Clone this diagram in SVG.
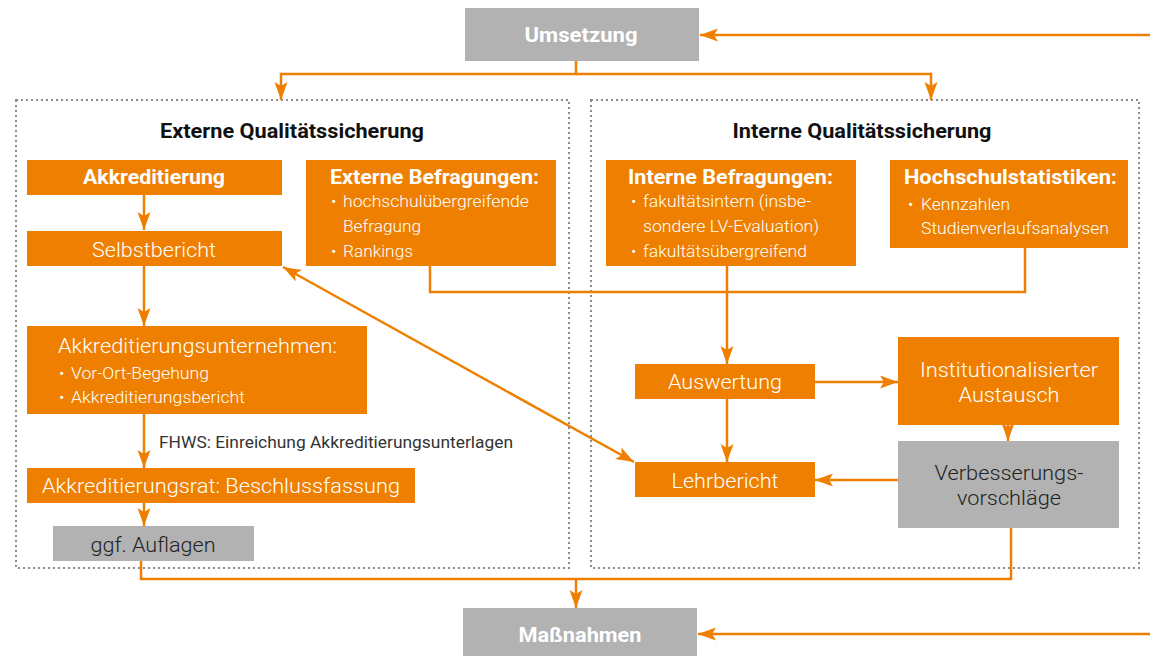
<svg xmlns="http://www.w3.org/2000/svg" width="1150" height="656" viewBox="0 0 1150 656">
<defs>
<style>
.or{fill:#ee7f00}
.gr{fill:#b2b2b2}
.frame{fill:none;stroke:#8c8c8c;stroke-width:2;stroke-dasharray:2 3}
.c{fill:none;stroke:#ee7f00;stroke-width:2.5}
.b{font-family:Roboto,"Liberation Sans",sans-serif;font-weight:700;font-size:20px;fill:#fff}
.t{font-family:Roboto,"Liberation Sans",sans-serif;font-weight:700;font-size:20px;fill:#111}
.l{font-family:Roboto,"Liberation Sans",sans-serif;font-weight:300;font-size:21px;fill:#fff}
.s{font-family:Roboto,"Liberation Sans",sans-serif;font-weight:300;font-size:16.5px;fill:#fff}
.d{font-family:Roboto,"Liberation Sans",sans-serif;font-weight:300;font-size:21px;fill:#222}
.n{font-family:Roboto,"Liberation Sans",sans-serif;font-weight:400;font-size:16px;fill:#333}
.m{text-anchor:middle}
</style>
<marker id="ah" markerUnits="userSpaceOnUse" markerWidth="20" markerHeight="14" refX="18" refY="6.5" orient="auto-start-reverse">
<path d="M0,0 L18,6.5 L0,13 L4,6.5 z" fill="#ee7f00"/>
</marker>
</defs>

<rect class="frame" x="16" y="100" width="553" height="468"/>
<rect class="frame" x="591" y="100" width="548" height="468"/>
<text class="t m" x="292" y="138" textLength="264" lengthAdjust="spacingAndGlyphs">Externe Qualitätssicherung</text>
<text class="t m" x="862" y="138" textLength="259" lengthAdjust="spacingAndGlyphs">Interne Qualitätssicherung</text>

<g id="connectors">
<path class="c" d="M1150,35 H700" marker-end="url(#ah)"/>
<path class="c" d="M576,61 V74 H281 V100" marker-end="url(#ah)"/>
<path class="c" d="M576,74 H931 V100" marker-end="url(#ah)"/>
<path class="c" d="M144,195 V230" marker-end="url(#ah)"/>
<path class="c" d="M144,266 V326" marker-end="url(#ah)"/>
<path class="c" d="M144,414 V468" marker-end="url(#ah)"/>
<path class="c" d="M144,503 V526" marker-end="url(#ah)"/>
<path class="c" d="M283,267 L634,462" marker-start="url(#ah)" marker-end="url(#ah)"/>
<path class="c" d="M430,266 V292 H1025 V248"/>
<path class="c" d="M727,266 V364" marker-end="url(#ah)"/>
<path class="c" d="M815,382 H898" marker-end="url(#ah)"/>
<path class="c" d="M1008,425 V441" marker-end="url(#ah)"/>
<path class="c" d="M898,480 H815" marker-end="url(#ah)"/>
<path class="c" d="M727,399 V462" marker-end="url(#ah)"/>
<path class="c" d="M141,561 V579 H1011 V528"/>
<path class="c" d="M576,579 V608" marker-end="url(#ah)"/>
<path class="c" d="M1150,634 H698" marker-end="url(#ah)"/>
<text class="n" x="159" y="448" textLength="354" lengthAdjust="spacingAndGlyphs">FHWS: Einreichung Akkreditierungsunterlagen</text>
</g>

<g id="umsetzung">
<rect class="gr" x="465" y="8" width="234" height="53"/>
<text class="b m" x="581" y="42" textLength="113" lengthAdjust="spacingAndGlyphs">Umsetzung</text>
</g>

<g id="akkreditierung">
<rect class="or" x="27" y="160" width="255" height="35"/>
<text class="b m" x="154" y="184" textLength="142" lengthAdjust="spacingAndGlyphs">Akkreditierung</text>
</g>

<g id="selbstbericht">
<rect class="or" x="27" y="231" width="255" height="35"/>
<text class="l m" x="154" y="257" textLength="124" lengthAdjust="spacingAndGlyphs">Selbstbericht</text>
</g>

<g id="externe-befragungen">
<rect class="or" x="306" y="160" width="250" height="106"/>
<text class="b" x="330" y="184" textLength="209" lengthAdjust="spacingAndGlyphs">Externe Befragungen:</text>
<text class="s" x="331" y="207">•</text>
<text class="s" x="343" y="207" textLength="186" lengthAdjust="spacingAndGlyphs">hochschulübergreifende</text>
<text class="s" x="343" y="232" textLength="78" lengthAdjust="spacingAndGlyphs">Befragung</text>
<text class="s" x="331" y="257">•</text>
<text class="s" x="343" y="257" textLength="70" lengthAdjust="spacingAndGlyphs">Rankings</text>
</g>

<g id="interne-befragungen">
<rect class="or" x="606" y="160" width="250" height="106"/>
<text class="b" x="628" y="184" textLength="205" lengthAdjust="spacingAndGlyphs">Interne Befragungen:</text>
<text class="s" x="631" y="207">•</text>
<text class="s" x="643" y="207" textLength="168" lengthAdjust="spacingAndGlyphs">fakultätsintern (insbe-</text>
<text class="s" x="643" y="232" textLength="176" lengthAdjust="spacingAndGlyphs">sondere LV-Evaluation)</text>
<text class="s" x="631" y="257">•</text>
<text class="s" x="643" y="257" textLength="164" lengthAdjust="spacingAndGlyphs">fakultätsübergreifend</text>
</g>

<g id="hochschulstatistiken">
<rect class="or" x="890" y="160" width="238" height="88"/>
<text class="b" x="904" y="184" textLength="213" lengthAdjust="spacingAndGlyphs">Hochschulstatistiken:</text>
<text class="s" x="908" y="210">•</text>
<text class="s" x="921" y="210" textLength="89" lengthAdjust="spacingAndGlyphs">Kennzahlen</text>
<text class="s" x="921" y="234" textLength="188" lengthAdjust="spacingAndGlyphs">Studienverlaufsanalysen</text>
</g>

<g id="akkreditierungsunternehmen">
<rect class="or" x="27" y="326" width="340" height="88"/>
<text class="l" x="58" y="353" textLength="279" lengthAdjust="spacingAndGlyphs">Akkreditierungsunternehmen:</text>
<text class="s" x="59" y="379">•</text>
<text class="s" x="71" y="379" textLength="138" lengthAdjust="spacingAndGlyphs">Vor-Ort-Begehung</text>
<text class="s" x="59" y="403">•</text>
<text class="s" x="71" y="403" textLength="174" lengthAdjust="spacingAndGlyphs">Akkreditierungsbericht</text>
</g>

<g id="akkreditierungsrat">
<rect class="or" x="27" y="468" width="388" height="35"/>
<text class="l m" x="221" y="493" textLength="358" lengthAdjust="spacingAndGlyphs">Akkreditierungsrat: Beschlussfassung</text>
</g>

<g id="auflagen">
<rect class="gr" x="53" y="526" width="201" height="35"/>
<text class="d m" x="153" y="552" textLength="125" lengthAdjust="spacingAndGlyphs">ggf. Auflagen</text>
</g>

<g id="auswertung">
<rect class="or" x="635" y="364" width="180" height="35"/>
<text class="l m" x="725" y="389" textLength="114" lengthAdjust="spacingAndGlyphs">Auswertung</text>
</g>

<g id="austausch">
<rect class="or" x="898" y="337" width="221" height="88"/>
<text class="l m" x="1009" y="377" textLength="178" lengthAdjust="spacingAndGlyphs">Institutionalisierter</text>
<text class="l m" x="1009" y="402" textLength="101" lengthAdjust="spacingAndGlyphs">Austausch</text>
</g>

<g id="lehrbericht">
<rect class="or" x="635" y="462" width="180" height="35"/>
<text class="l m" x="725" y="488" textLength="107" lengthAdjust="spacingAndGlyphs">Lehrbericht</text>
</g>

<g id="verbesserungsvorschlaege">
<rect class="gr" x="898" y="441" width="221" height="87"/>
<text class="d m" x="1009" y="480" textLength="149" lengthAdjust="spacingAndGlyphs">Verbesserungs-</text>
<text class="d m" x="1009" y="505" textLength="104" lengthAdjust="spacingAndGlyphs">vorschläge</text>
</g>

<g id="massnahmen">
<rect class="gr" x="463" y="608" width="234" height="48"/>
<text class="b m" x="580" y="642" textLength="123" lengthAdjust="spacingAndGlyphs">Maßnahmen</text>
</g>
</svg>
